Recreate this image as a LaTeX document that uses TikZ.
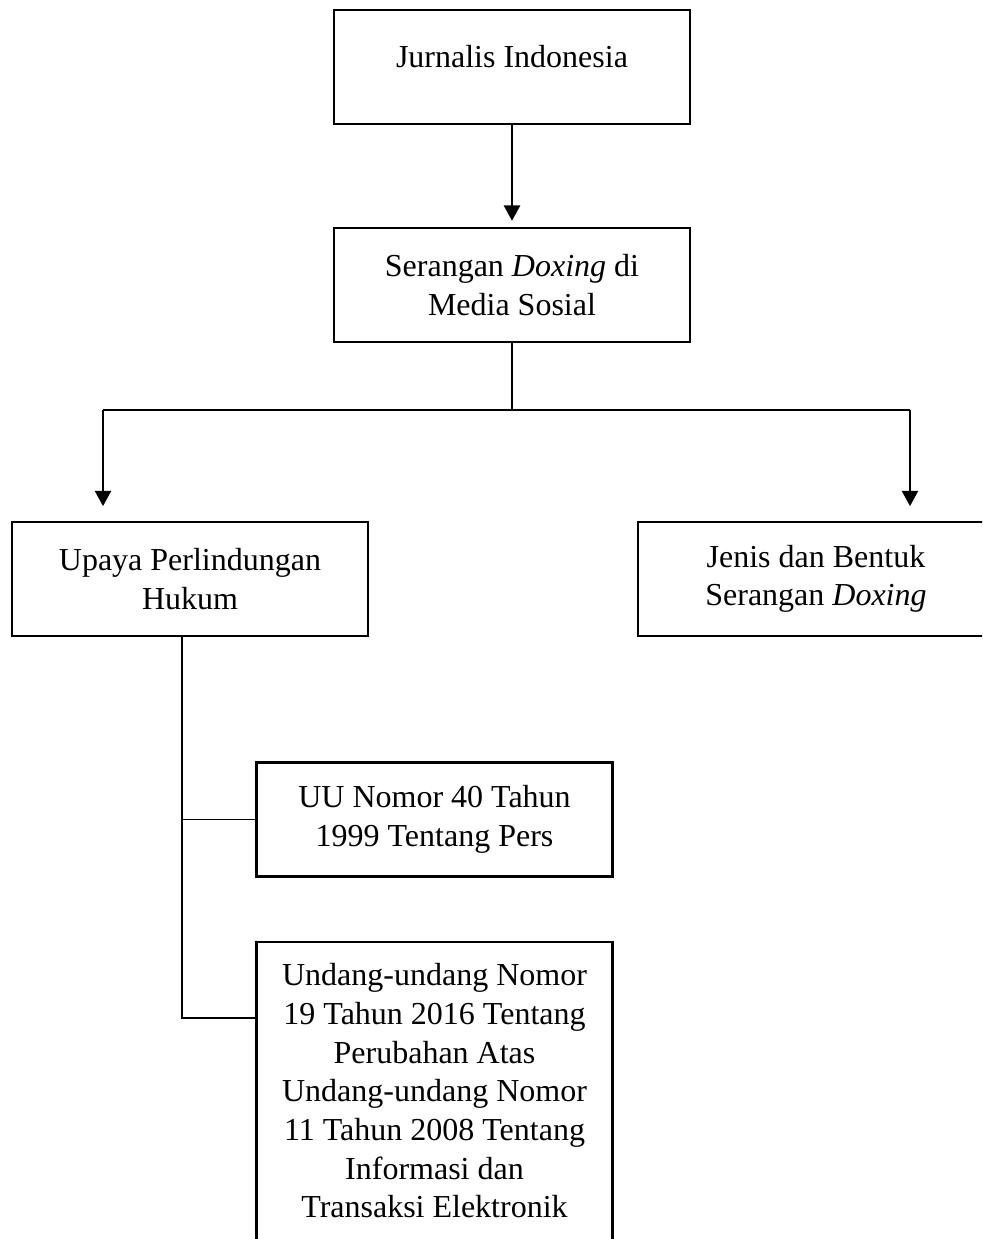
\documentclass[tikz,border=0pt]{standalone}
\usepackage{fontspec}
\setmainfont{Liberation Serif}
\usetikzlibrary{arrows.meta,calc,positioning}

\begin{document}
\begin{tikzpicture}[
  x=0.75pt, y=-0.75pt,
  font=\fontsize{24}{29}\selectfont,
  box/.style={draw=black, line width=1.8pt, fill=white, align=center,
    minimum width=267pt, minimum height=85.5pt, inner sep=6pt},
  link/.style={black, line width=0.8pt},
  arrow/.style={black, line width=1.9pt, -{Triangle[length=11.5pt,width=12pt]}}
]

% Canvas: page size and crop (the last boxes run off the page).
\useasboundingbox (0,0) rectangle (982,1239);
\clip (0,0) rectangle (982,1239);

% --------------------------------------------------------------------------
% Top: subject and problem.
% --------------------------------------------------------------------------
\node[box, text height=16pt, text depth=16pt] (jurnalis) at (512,67) {Jurnalis Indonesia};
\node[box] (serangan) at (512,285) {Serangan \textit{Doxing} di\\Media Sosial};

\draw[arrow, shorten >=4.5pt] (jurnalis) -- (serangan);

% --------------------------------------------------------------------------
% Middle: two branches.
% --------------------------------------------------------------------------
\node[box] (upaya) at (190,579) {Upaya Perlindungan\\Hukum};
\node[box] (jenis) at (816,579) {Jenis dan Bentuk\\Serangan \textit{Doxing}};

\coordinate (fork) at (512,410);
\coordinate (forkL) at (103,410);
\coordinate (forkR) at (910,410);

\draw[link] (serangan) -- (fork);
\draw[link] (forkL) -- (forkR);
\draw[arrow, shorten >=11pt] (forkL) -- (forkL |- upaya.north);
\draw[arrow, shorten >=11pt] (forkR) -- (forkR |- jenis.north);

% --------------------------------------------------------------------------
% Bottom: legal basis.
% --------------------------------------------------------------------------
\node[box] (uupers) at (434.5,819.5) {UU Nomor 40 Tahun\\1999 Tentang Pers};
\node[box, anchor=north, inner ysep=16pt] (uuite) at (434.5,941)
  {Undang-undang Nomor\\19 Tahun 2016 Tentang\\Perubahan Atas\\Undang-undang Nomor\\11 Tahun 2008 Tentang\\Informasi dan\\Transaksi Elektronik\\[-10pt]\mbox{}};

\coordinate (trunk) at (182,1018);
\draw[link] (upaya.south -| trunk) -- (trunk) -- (uuite.west |- trunk);
\draw[link] (trunk |- uupers.west) -- (uupers.west);

\end{tikzpicture}
\end{document}
